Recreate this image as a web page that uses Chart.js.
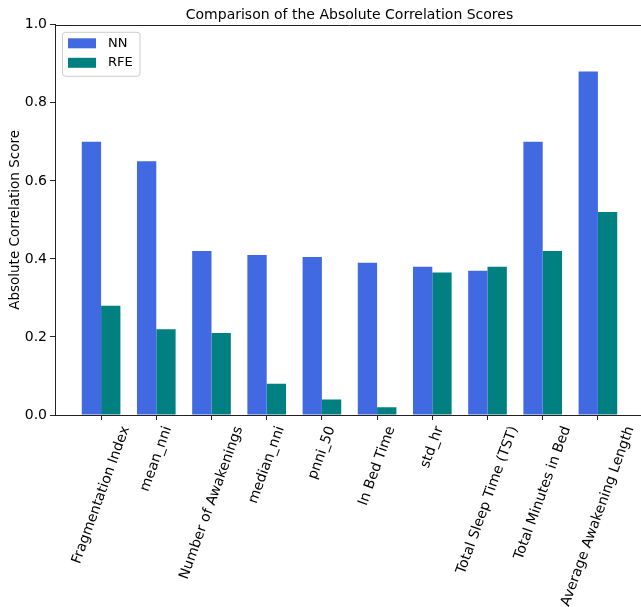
<!DOCTYPE html>
<html>
<head>
<meta charset="utf-8">
<script src="https://cdn.jsdelivr.net/npm/chart.js@4.4.1/dist/chart.umd.min.js"></script>
<style>
  html, body { margin: 0; padding: 0; background: #fff; overflow: hidden; }
  #wrap { position: relative; width: 646px; height: 607px; }
</style>
</head>
<body>
<div id="wrap"><canvas id="chart"></canvas></div>
<script>
// Features compared
const categories = [
    'Fragmentation Index', 'mean_nni', 'Number of Awakenings', 'median_nni', 'pnni_50',
    'In Bed Time', 'std_hr', 'Total Sleep Time (TST)', 'Total Minutes in Bed', 'Average Awakening Length'
];
// Absolute correlation scores per method
const nnScores = [0.70, 0.65, 0.42, 0.41, 0.405, 0.39, 0.38, 0.37, 0.70, 0.88];
const rfeScores = [0.28, 0.22, 0.21, 0.08, 0.04, 0.02, 0.365, 0.38, 0.42, 0.52];
const yTicks = [0, 0.2, 0.4, 0.6, 0.8, 1.0];

Chart.defaults.font.family = '"DejaVu Sans", sans-serif';
Chart.defaults.color = '#000';

const axisColor = '#222';

// matplotlib style top spine
const topSpine = {
    id: 'topSpine',
    afterDraw(chart) {
        const { ctx, chartArea } = chart;
        const y = Math.round(chartArea.top) + 0.5;
        ctx.save();
        ctx.strokeStyle = axisColor;
        ctx.lineWidth = 1;
        ctx.beginPath();
        ctx.moveTo(chartArea.left, y);
        ctx.lineTo(chartArea.right, y);
        ctx.stroke();
        ctx.restore();
    }
};

// rotated x labels, centred on the tick like matplotlib does
const rotatedTickLabels = {
    id: 'rotatedTickLabels',
    afterDraw(chart) {
        const { ctx, chartArea } = chart;
        const xScale = chart.scales.x;
        const angle = 70 * Math.PI / 180;
        const size = 14;
        ctx.save();
        ctx.font = size + 'px "DejaVu Sans"';
        ctx.fillStyle = '#000';
        ctx.textAlign = 'center';
        ctx.textBaseline = 'middle';
        categories.forEach((label, i) => {
            const w = ctx.measureText(label).width;
            const h = size * 1.17;
            const boxH = w * Math.sin(angle) + h * Math.cos(angle);
            const cx = xScale.getPixelForValue(i);
            const cy = chartArea.bottom + 9 + boxH / 2;
            ctx.save();
            ctx.translate(cx, cy);
            ctx.rotate(-angle);
            ctx.fillText(label, 0, 0);
            ctx.restore();
        });
        ctx.restore();
    }
};

// legend box in the upper left of the axes
const innerLegend = {
    id: 'innerLegend',
    afterDraw(chart) {
        const { ctx, chartArea } = chart;
        const x0 = chartArea.left + 7.5, y0 = chartArea.top + 7.5;
        const w = 77.5, h = 44, r = 3;
        ctx.save();
        ctx.fillStyle = 'rgba(255,255,255,0.8)';
        ctx.strokeStyle = '#cccccc';
        ctx.lineWidth = 1;
        ctx.beginPath();
        ctx.roundRect(x0, y0, w, h, r);
        ctx.fill();
        ctx.stroke();
        ctx.font = '13px "DejaVu Sans"';
        ctx.textBaseline = 'middle';
        ctx.textAlign = 'left';
        chart.data.datasets.forEach((ds, i) => {
            const rowY = y0 + 11 + i * 19.5;
            ctx.fillStyle = ds.backgroundColor;
            ctx.fillRect(x0 + 5.5, rowY - 5, 28, 10);
            ctx.fillStyle = '#000';
            ctx.fillText(ds.label, x0 + 45.5, rowY);
        });
        ctx.restore();
    }
};

new Chart(document.getElementById('chart'), {
    type: 'bar',
    data: {
        datasets: [
            {
                label: 'NN',
                data: categories.map((c, i) => ({ x: i, y: nnScores[i] })),
                backgroundColor: '#4169E1'
            },
            {
                label: 'RFE',
                data: categories.map((c, i) => ({ x: i, y: rfeScores[i] })),
                backgroundColor: '#008080'
            }
        ]
    },
    options: {
        responsive: true,
        maintainAspectRatio: false,
        animation: false,
        layout: { padding: { left: 0, right: 2, top: 0, bottom: 187 } },
        datasets: { bar: { categoryPercentage: 0.7, barPercentage: 1.0, borderWidth: 0 } },
        plugins: {
            legend: { display: false },
            tooltip: { enabled: false },
            title: {
                display: true,
                text: 'Comparison of the Absolute Correlation Scores',
                fullSize: false,
                font: { size: 14, weight: 'normal' },
                color: '#000',
                padding: { top: 7, bottom: 1 }
            }
        },
        scales: {
            x: {
                type: 'linear',
                offset: false,
                min: -0.835,
                max: 9.835,
                afterBuildTicks: scale => {
                    scale.ticks = categories.map((c, i) => ({ value: i }));
                },
                ticks: { display: false },
                grid: {
                    offset: false,
                    drawOnChartArea: false,
                    drawTicks: true,
                    tickLength: 5,
                    color: axisColor
                },
                border: { display: true, color: axisColor, width: 1 }
            },
            y: {
                min: 0,
                max: 1,
                afterBuildTicks: scale => {
                    scale.ticks = yTicks.map(v => ({ value: v }));
                },
                afterFit: scale => { scale.width = 55; },
                ticks: {
                    padding: 3,
                    font: { size: 14 },
                    color: '#000',
                    callback: v => Number(v).toFixed(1)
                },
                grid: {
                    drawOnChartArea: false,
                    drawTicks: true,
                    tickLength: 5,
                    color: axisColor
                },
                border: { display: true, color: axisColor, width: 1 },
                title: {
                    display: true,
                    text: 'Absolute Correlation Score',
                    font: { size: 13.5 },
                    color: '#000',
                    padding: { top: 7.4, bottom: 0 }
                }
            }
        }
    },
    plugins: [topSpine, rotatedTickLabels, innerLegend]
});
</script>
</body>
</html>
